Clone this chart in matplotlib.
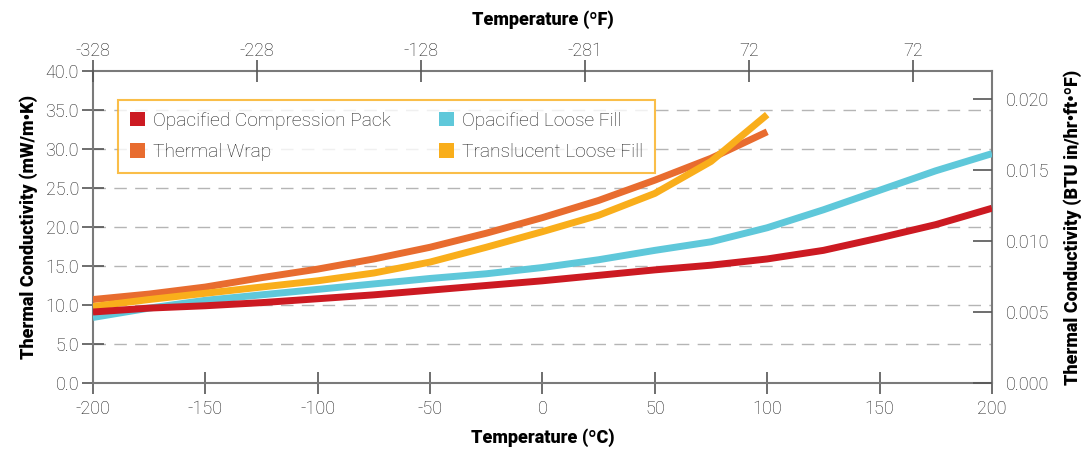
import matplotlib
matplotlib.use("Agg")
import matplotlib.pyplot as plt
from matplotlib.patches import Patch
from matplotlib.ticker import FormatStrFormatter

temp_c = [-200, -175, -150, -125, -100, -75, -50, -25, 0, 25, 50, 75, 100, 125, 150, 175, 200]
compression_pack = [9.1, 9.6, 9.9, 10.3, 10.8, 11.3, 11.9, 12.5, 13.1, 13.8, 14.5, 15.1, 15.9, 17.0, 18.6, 20.3, 22.4]
opacified_loose = [8.4, 9.6, 10.6, 11.3, 12.0, 12.7, 13.4, 14.0, 14.8, 15.8, 17.0, 18.1, 19.9, 22.2, 24.7, 27.2, 29.4]
temp_c_short = [-200, -175, -150, -125, -100, -75, -50, -25, 0, 25, 50, 75, 100]
thermal_wrap = [10.7, 11.4, 12.3, 13.5, 14.6, 15.9, 17.4, 19.2, 21.2, 23.4, 26.0, 28.8, 32.2]
translucent_loose = [9.8, 10.7, 11.5, 12.3, 13.1, 14.1, 15.5, 17.4, 19.4, 21.5, 24.3, 28.4, 34.4]

bottom_ticks = [-200, -150, -100, -50, 0, 50, 100, 150, 200]
left_ticks = [0, 5, 10, 15, 20, 25, 30, 35, 40]
right_ticks = [0.000, 0.005, 0.010, 0.015, 0.020]
top_tick_labels = ["-328", "-228", "-128", "-281", "72", "72"]

C_RED = "#CC1A22"
C_ORANGE = "#E86C2F"
C_CYAN = "#5FC8DA"
C_YELLOW = "#F9AE1B"
SPINE = "#7a7a7a"
TXT = "#1e1e1e"

plt.rcParams['font.family'] = ['Roboto', 'DejaVu Sans']
plt.rcParams['axes.unicode_minus'] = False

fig = plt.figure(figsize=(10.91, 4.49), dpi=100)
ax = fig.add_axes([0.0852, 0.147, 0.824, 0.695])

ax.set_xlim(-200, 200)
ax.set_ylim(0, 40)

lw = 5.0
ax.plot(temp_c_short, thermal_wrap, color=C_ORANGE, lw=lw, solid_capstyle='butt', zorder=3)
ax.plot(temp_c_short, translucent_loose, color=C_YELLOW, lw=lw, solid_capstyle='butt', zorder=4)
ax.plot(temp_c, opacified_loose, color=C_CYAN, lw=lw, solid_capstyle='butt', zorder=3)
ax.plot(temp_c, compression_pack, color=C_RED, lw=lw, solid_capstyle='butt', zorder=4)

# grid
for yv in left_ticks[1:-1]:
    ax.axhline(yv, color="#b5b5b5", lw=1.0, dashes=(9, 6), zorder=1)

ax.set_xticks(bottom_ticks)
ax.set_yticks(left_ticks)
ax.yaxis.set_major_formatter(FormatStrFormatter('%.1f'))
ax.tick_params(axis='both', direction='inout', length=16, width=1.2, color="#555555",
               labelsize=13, labelcolor=TXT)
ax.tick_params(axis='x', pad=4)
ax.tick_params(axis='y', pad=2)
for lab in ax.get_xticklabels() + ax.get_yticklabels():
    lab.set_fontweight('light')

for s in ax.spines.values():
    s.set_color(SPINE)
    s.set_linewidth(1.5)

ax.set_xlabel("Temperature (ºC)", fontsize=13, fontweight='black', color='black', labelpad=8)
ax.set_ylabel("Thermal Conductivity (mW/m•K)", fontsize=13, fontweight='black', color='black', labelpad=5)

# top axis
axt = ax.twiny()
axt.set_xlim(-200, 200)
top_pos = [-200 + 73 * i for i in range(len(top_tick_labels))]
axt.set_xticks(top_pos)
axt.set_xticklabels(top_tick_labels, fontweight='light')
axt.tick_params(axis='x', direction='inout', length=16, width=1.2, color="#555555",
                labelsize=13, labelcolor=TXT, pad=0)
axt.set_xlabel("Temperature (ºF)", fontsize=13, fontweight='black', color='black', labelpad=12)
for s in axt.spines.values():
    s.set_visible(False)

# right axis
axr = ax.twinx()
axr.set_ylim(0, 0.022)
axr.set_yticks(right_ticks)
axr.yaxis.set_major_formatter(FormatStrFormatter('%.3f'))
axr.tick_params(axis='y', direction='in', length=14, width=1.2, color="#555555",
                labelsize=13, labelcolor=TXT, pad=10)
for lab in axr.get_yticklabels():
    lab.set_fontweight('light')
axr.set_ylabel("Thermal Conductivity (BTU in/hr•ft•ºF)", fontsize=13, fontweight='black',
               color='black', rotation=90, labelpad=10)
for s in axr.spines.values():
    s.set_visible(False)

handles = [Patch(facecolor=C_RED, edgecolor='none', label="Opacified Compression Pack"),
           Patch(facecolor=C_ORANGE, edgecolor='none', label="Thermal Wrap"),
           Patch(facecolor=C_CYAN, edgecolor='none', label="Opacified Loose Fill"),
           Patch(facecolor=C_YELLOW, edgecolor='none', label="Translucent Loose Fill")]
leg = ax.legend(handles=handles, ncol=2, loc='upper left', bbox_to_anchor=(0.028, 0.908),
                borderaxespad=0.0, frameon=True, fancybox=False, edgecolor=C_YELLOW,
                handlelength=0.8, handleheight=0.8, handletextpad=0.4, columnspacing=2.5,
                labelspacing=0.72, borderpad=0.62, prop={'size': 13.8, 'weight': 'light'})
leg.get_frame().set_linewidth(1.5)
for t in leg.get_texts():
    t.set_color(TXT)
leg.set_zorder(10)

fig.savefig("out.png", dpi=100)
